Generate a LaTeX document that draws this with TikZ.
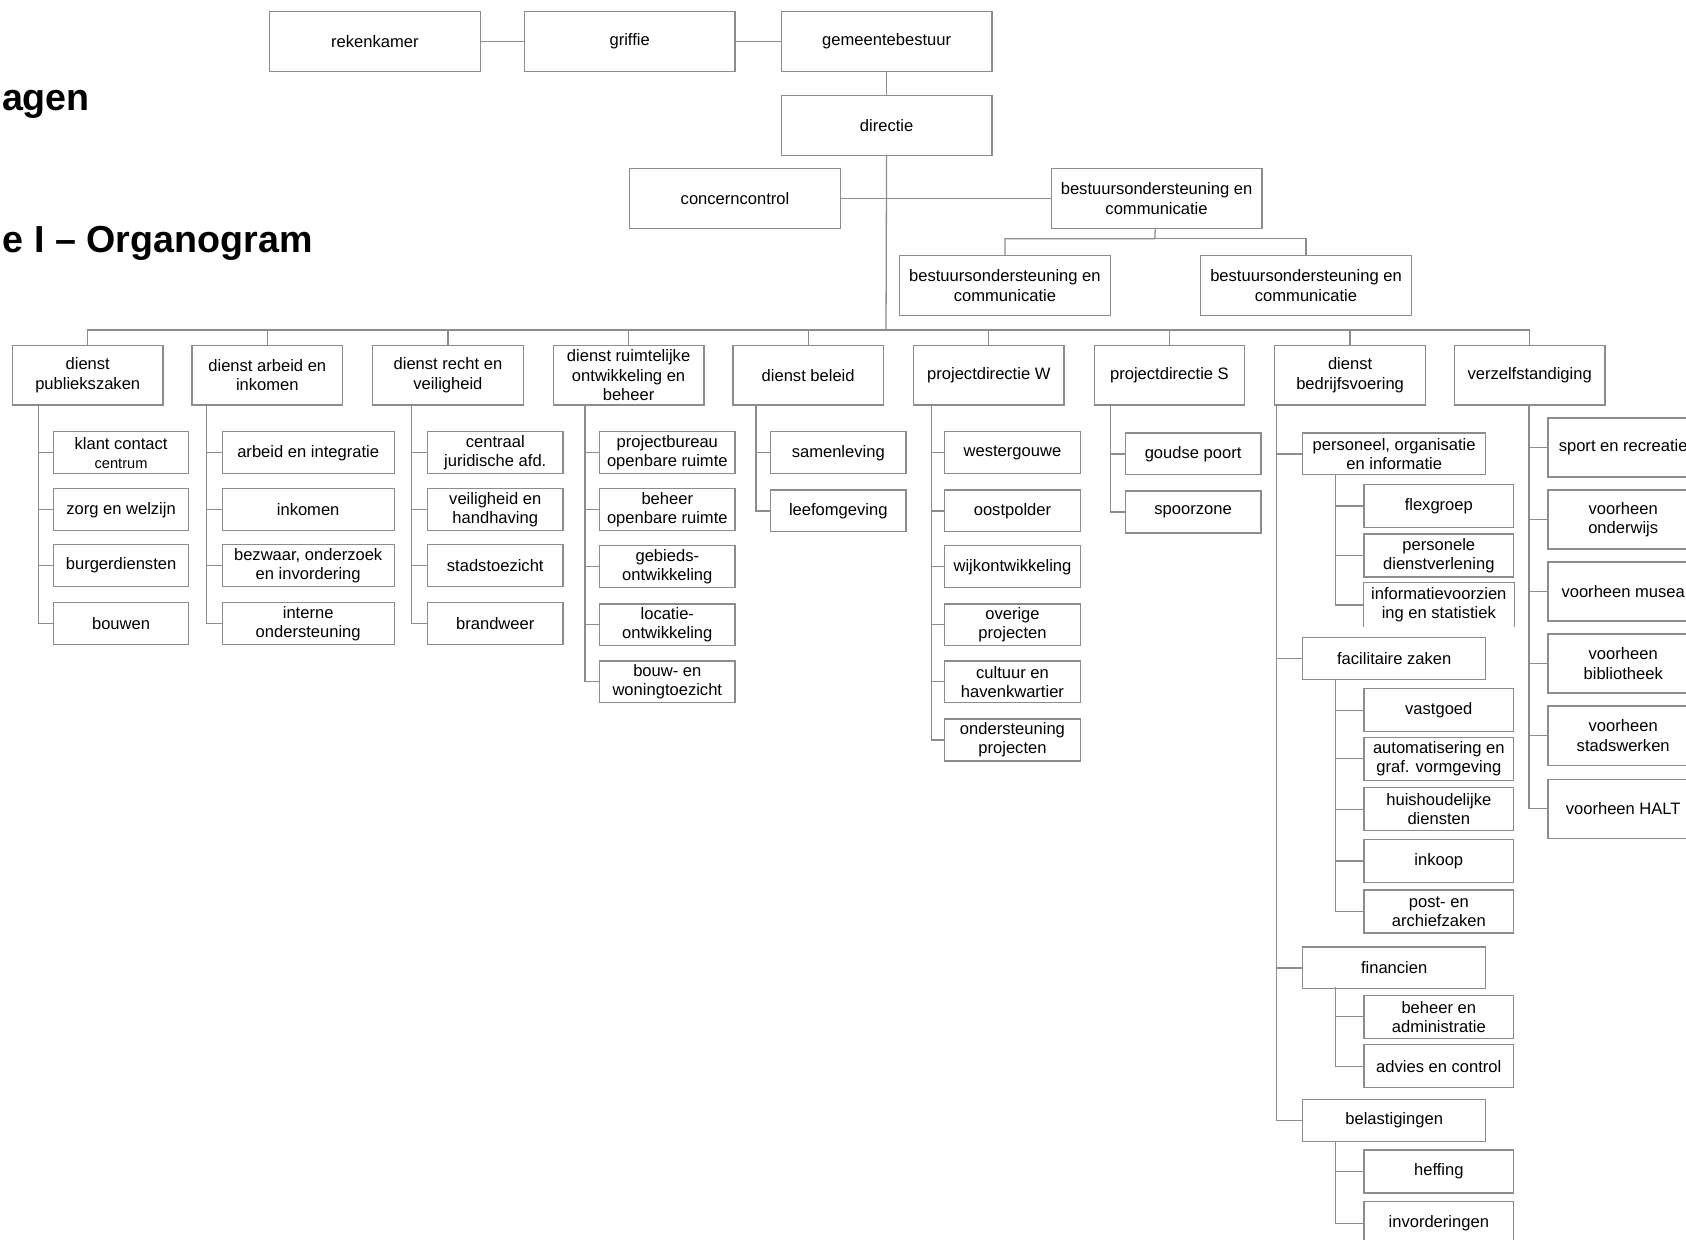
\documentclass[tikz,border=0pt]{standalone}
\usepackage{fontspec}
\setmainfont{Liberation Sans}

\begin{document}
\begin{tikzpicture}[
    x=0.5pt, y=-0.5pt,
    org line/.style={black!45,line width=0.6pt},
    org box/.style={draw=black!45,line width=0.6pt,anchor=north west,align=center,inner sep=1pt,font=\fontsize{7.7}{9}\selectfont},
    top box/.style={org box,minimum width=98pt,minimum height=28pt},
    dienst box/.style={org box,minimum width=70pt,minimum height=27.5pt},
    team box/.style={org box,minimum width=63pt,minimum height=19.5pt},
    wide team box/.style={team box,minimum width=80pt},
    bv box/.style={org box,minimum width=85pt,minimum height=19.5pt},
    bv team box/.style={org box,minimum width=69.5pt,minimum height=20pt},
    title/.style={anchor=base east,inner sep=0pt,font=\bfseries\fontsize{17.5}{21}\selectfont}
]

\useasboundingbox (0,0) rectangle (1568,1153);
\clip (0,0) rectangle (1568,1153);

% Titels (links afgesneden)
\node[title] (bijlagen) at (84,103) {Bijlagen};
\node[title] (organogram) at (291,235) {Bijlage I – Organogram};

% Bestuur en directie
\node[top box] (rekenkamer) at (250,10) {rekenkamer};
\node[top box] (griffie) at (487,10) {griffie};
\node[top box] (gemeentebestuur) at (726,10) {gemeentebestuur};
\node[top box] (directie) at (726,88) {directie};
\node[top box] (concerncontrol) at (585,156) {concerncontrol};
\node[top box] (bsc) at (977,156) {bestuursondersteuning en\\communicatie};
\node[top box] (bsc1) at (836,237) {bestuursondersteuning en\\communicatie};
\node[top box] (bsc2) at (1116,237) {bestuursondersteuning en\\communicatie};

\coordinate (bsc fork) at (1074,222);
\coordinate (bus) at (824,307);

\draw[org line] (rekenkamer) -- (griffie);
\draw[org line] (griffie) -- (gemeentebestuur);
\draw[org line] (gemeentebestuur) -- (directie);
\draw[org line] (directie) -- (bus);
\draw[org line] (concerncontrol) -- (bsc);
\draw[org line] (bsc) -- (bsc fork) -| (bsc1.north);
\draw[org line] (bsc fork) -| (bsc2.north);

% Diensten
\node[dienst box] (dpz) at (11,321) {dienst\\publiekszaken};
\node[dienst box] (dai) at (178,321) {dienst arbeid en\\inkomen};
\node[dienst box] (drv) at (346,321) {dienst recht en\\veiligheid};
\node[dienst box,inner ysep=0pt] (drob) at (514,321) {dienst ruimtelijke\\ontwikkeling en\\beheer};
\node[dienst box] (dbel) at (681,321) {dienst beleid};
\node[dienst box] (pdw) at (849,321) {projectdirectie W};
\node[dienst box] (pds) at (1017,321) {projectdirectie S};
\node[dienst box] (dbv) at (1185,321) {dienst\\bedrijfsvoering};
\node[dienst box] (verz) at (1352,321) {verzelfstandiging};

\draw[org line] (bus) -| (dpz.north);
\draw[org line] (bus) -| (dai.north);
\draw[org line] (bus) -| (drv.north);
\draw[org line] (bus) -| (drob.north);
\draw[org line] (bus) -| (dbel.north);
\draw[org line] (bus) -| (pdw.north);
\draw[org line] (bus) -| (pds.north);
\draw[org line] (bus) -| (dbv.north);
\draw[org line] (bus) -| (verz.north);

% Publiekszaken
\node[team box] (kcc) at (49,401) {klant contact\\\fontsize{6.8}{8}\selectfont centrum};
\node[team box] (zorg) at (49,454) {zorg en welzijn};
\node[team box] (burger) at (49,506) {burgerdiensten};
\node[team box] (bouwen) at (49,560) {bouwen};
\coordinate (dpz trunk) at (36,376);
\draw[org line] (dpz trunk) |- (kcc.west) (dpz trunk) |- (zorg.west)
    (dpz trunk) |- (burger.west) (dpz trunk) |- (bouwen.west);

% Arbeid en inkomen
\node[wide team box] (arbeid) at (206,401) {arbeid en integratie};
\node[wide team box] (inkomen) at (206,454) {inkomen};
\node[wide team box] (bezwaar) at (206,506) {bezwaar, onderzoek\\en invordering};
\node[wide team box] (interne) at (206,560) {interne\\ondersteuning};
\coordinate (dai trunk) at (192,376);
\draw[org line] (dai trunk) |- (arbeid.west) (dai trunk) |- (inkomen.west)
    (dai trunk) |- (bezwaar.west) (dai trunk) |- (interne.west);

% Recht en veiligheid
\node[team box] (cja) at (397,401) {centraal\\juridische afd.};
\node[team box] (venh) at (397,454) {veiligheid en\\handhaving};
\node[team box] (stadstoezicht) at (397,506) {stadstoezicht};
\node[team box] (brandweer) at (397,560) {brandweer};
\coordinate (drv trunk) at (383,376);
\draw[org line] (drv trunk) |- (cja.west) (drv trunk) |- (venh.west)
    (drv trunk) |- (stadstoezicht.west) (drv trunk) |- (brandweer.west);

% Ruimtelijke ontwikkeling en beheer
\node[team box] (pbor) at (557,401) {projectbureau\\openbare ruimte};
\node[team box] (bor) at (557,454) {beheer\\openbare ruimte};
\node[team box] (gebied) at (557,507) {gebieds-\\ontwikkeling};
\node[team box] (locatie) at (557,561) {locatie-\\ontwikkeling};
\node[team box] (bwt) at (557,614) {bouw- en\\woningtoezicht};
\coordinate (drob trunk) at (544,376);
\draw[org line] (drob trunk) |- (pbor.west) (drob trunk) |- (bor.west)
    (drob trunk) |- (gebied.west) (drob trunk) |- (locatie.west)
    (drob trunk) |- (bwt.west);

% Beleid
\node[team box] (samenleving) at (716,401) {samenleving};
\node[team box] (leefomgeving) at (716,455) {leefomgeving};
\coordinate (dbel trunk) at (703,376);
\draw[org line] (dbel trunk) |- (samenleving.west) (dbel trunk) |- (leefomgeving.west);

% Projectdirectie W
\node[team box] (westergouwe) at (878,401) {westergouwe};
\node[team box] (oostpolder) at (878,455) {oostpolder};
\node[team box] (wijk) at (878,507) {wijkontwikkeling};
\node[team box] (overige) at (878,561) {overige\\projecten};
\node[team box] (havenkwartier) at (878,614) {cultuur en\\havenkwartier};
\node[team box] (ondersteuning) at (878,668) {ondersteuning\\projecten};
\coordinate (pdw trunk) at (866,376);
\draw[org line] (pdw trunk) |- (westergouwe.west) (pdw trunk) |- (oostpolder.west)
    (pdw trunk) |- (wijk.west) (pdw trunk) |- (overige.west)
    (pdw trunk) |- (havenkwartier.west) (pdw trunk) |- (ondersteuning.west);

% Projectdirectie S
\node[team box] (goudse) at (1046,402) {goudse poort};
\node[team box] (spoorzone) at (1046,456) {spoorzone};
\coordinate (pds trunk) at (1033,376);
\draw[org line] (pds trunk) |- (goudse.west) (pds trunk) |- (spoorzone.west);

% Bedrijfsvoering
\node[bv box] (poi) at (1211,402) {personeel, organisatie\\en informatie};
\node[bv box] (fz) at (1211,592) {facilitaire zaken};
\node[bv box] (fin) at (1211,880) {financien};
\node[bv box] (bel) at (1211,1022) {belastigingen};
\coordinate (dbv trunk) at (1187,376);
\draw[org line] (dbv trunk) |- (poi.west) (dbv trunk) |- (fz.west)
    (dbv trunk) |- (fin.west) (dbv trunk) |- (bel.west);

\node[bv team box] (flex) at (1268,450) {flexgroep};
\node[bv team box] (pdv) at (1268,496) {personele\\dienstverlening};
% onderrand ontbreekt in het origineel
\node[bv team box,draw=none] (ivs) at (1268,542) {informatievoorzien\\ing en statistiek};
\draw[draw=black!45,line width=0.6pt] (ivs.south west) |- (ivs.north east) -- (ivs.south east);
\coordinate (poi trunk) at (1242,441);
\draw[org line] (poi trunk) |- (flex.west) (poi trunk) |- (pdv.west) (poi trunk) |- (ivs.west);

\node[bv team box] (vastgoed) at (1268,640) {vastgoed};
\node[bv team box] (automatisering) at (1268,685) {automatisering en\\graf. vormgeving};
\node[bv team box] (huishoudelijk) at (1268,732) {huishoudelijke\\diensten};
\node[bv team box] (inkoop) at (1268,780) {inkoop};
\node[bv team box] (post) at (1268,827) {post- en\\archiefzaken};
\coordinate (fz trunk) at (1242,631);
\draw[org line] (fz trunk) |- (vastgoed.west) (fz trunk) |- (automatisering.west)
    (fz trunk) |- (huishoudelijk.west) (fz trunk) |- (inkoop.west)
    (fz trunk) |- (post.west);

\node[bv team box] (benadm) at (1268,925) {beheer en\\administratie};
\node[bv team box] (advies) at (1268,971) {advies en control};
\coordinate (fin trunk) at (1242,918);
\draw[org line] (fin trunk) |- (benadm.west) (fin trunk) |- (advies.west);

\node[bv team box] (heffing) at (1268,1069) {heffing};
\node[bv team box] (invorderingen) at (1268,1117) {invorderingen};
\coordinate (bel trunk) at (1242,1061);
\draw[org line] (bel trunk) |- (heffing.west) (bel trunk) |- (invorderingen.west);

% Verzelfstandiging (rechts afgesneden)
\node[dienst box] (sport) at (1439,388) {sport en recreatie};
\node[dienst box] (onderwijs) at (1439,455) {voorheen\\onderwijs};
\node[dienst box] (musea) at (1439,522) {voorheen musea};
\node[dienst box] (bibliotheek) at (1439,589) {voorheen\\bibliotheek};
\node[dienst box] (stadswerken) at (1439,656) {voorheen\\stadswerken};
\node[dienst box] (halt) at (1439,724) {voorheen HALT};
\coordinate (verz trunk) at (1422,376);
\draw[org line] (verz trunk) |- (sport.west) (verz trunk) |- (onderwijs.west)
    (verz trunk) |- (musea.west) (verz trunk) |- (bibliotheek.west)
    (verz trunk) |- (stadswerken.west) (verz trunk) |- (halt.west);

\end{tikzpicture}
\end{document}
